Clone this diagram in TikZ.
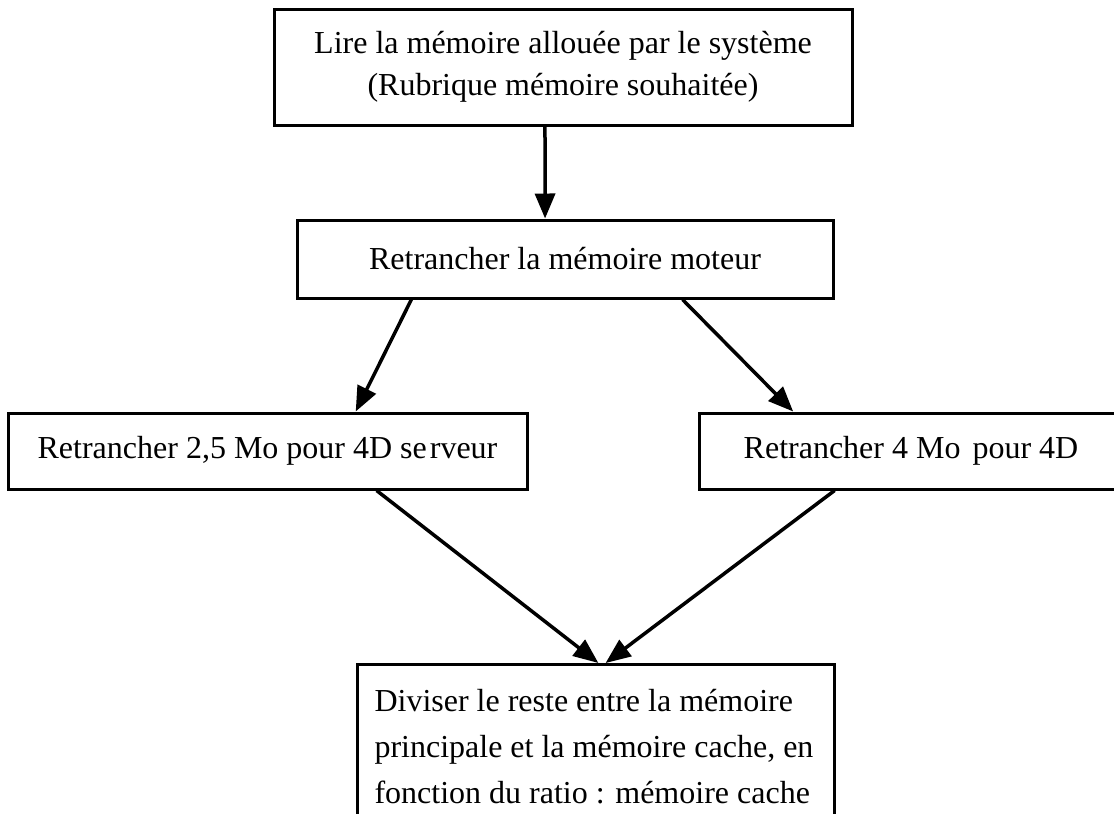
\documentclass[tikz,border=0pt]{standalone}
\usepackage{fontspec}
\setmainfont{Liberation Serif}
\usetikzlibrary{arrows.meta,calc}
\begin{document}
\begin{tikzpicture}[x=1pt,y=-1pt,
  box/.style={draw,line width=3pt,rectangle,inner sep=0pt,font=\fontsize{32}{42}\selectfont,align=center},
  arr/.style={line width=3.5pt,-{Triangle[length=25pt,width=20pt]}}]
\useasboundingbox (0,0) rectangle (1114,814);
\clip (0,0) rectangle (1114,814);
\node[box,minimum width=578pt,minimum height=116pt] (top) at (563,67)
  {Lire la mémoire allouée par le système\\(Rubrique mémoire souhaitée)};
\node[box,minimum width=536pt,minimum height=78pt] (mid) at (565,259)
  {Retrancher la mémoire moteur};
\node[box,minimum width=519pt,minimum height=76pt] (left) at (267.5,451)
  {Retrancher 2,5 Mo pour 4D se\kern3pt rveur};
\node[box,minimum width=424pt,minimum height=76pt] (right) at (911,451)
  {Retrancher 4 Mo\kern4pt{} pour 4D};
\node[box,anchor=north west,inner xsep=17pt,inner ysep=25pt,text width=443pt,align=flush left,
  font=\fontsize{32}{46}\selectfont] (bot) at (356,663)
  {Diviser le reste entre la mémoire\\principale et la mémoire cache, en\\fonction du ratio : mémoire cache};
\draw[arr] ($(top.south west)!0.469!(top.south east)$) -- ($(mid.north west)!0.463!(mid.north east)$);
\draw[arr] ($(mid.south west)!0.215!(mid.south east)$) -- ($(left.north west)!0.669!(left.north east)$);
\draw[arr] ($(mid.south west)!0.718!(mid.south east)$) -- ($(right.north west)!0.224!(right.north east)$);
\draw[arr] ($(left.south west)!0.709!(left.south east)$) -- ($(bot.north west)!0.505!(bot.north east)$);
\draw[arr] ($(right.south west)!0.321!(right.south east)$) -- ($(bot.north west)!0.52!(bot.north east)$);
\end{tikzpicture}
\end{document}
